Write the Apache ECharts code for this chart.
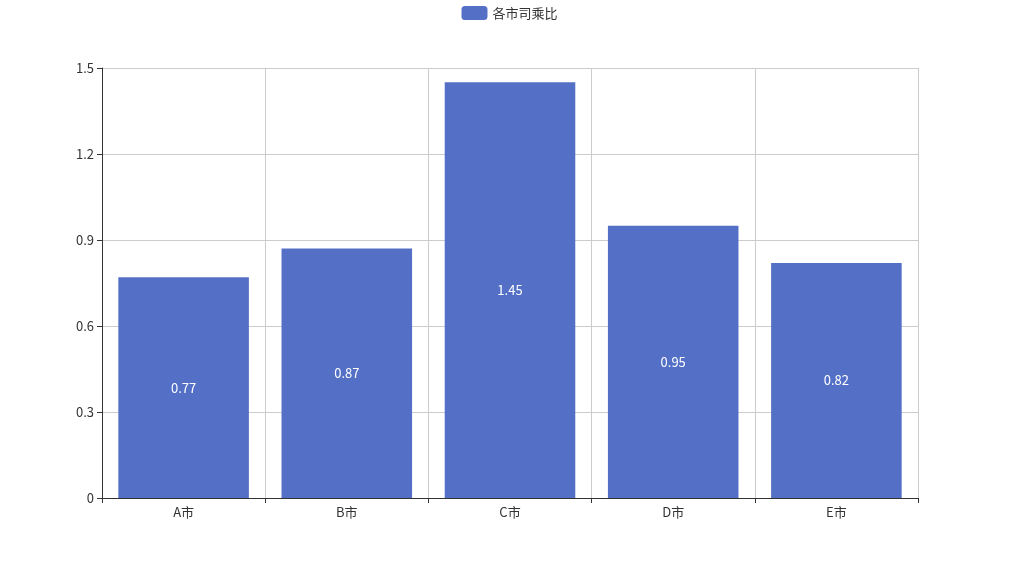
<!DOCTYPE html>
<html><head><meta charset="utf-8">
<script src="https://cdn.jsdelivr.net/npm/echarts@6/dist/echarts.min.js"></script>
<style>html,body{margin:0;padding:0;background:#fff}#c{width:1019px;height:566px}</style>
</head><body><div id="c"></div>
<script>
const categories = ['A市','B市','C市','D市','E市'];
const values = [0.77, 0.87, 1.45, 0.95, 0.82];
const seriesName = '各市司乘比';
const chart = echarts.init(document.getElementById('c'));
chart.setOption({
  textStyle: {fontFamily: '"Noto Sans CJK SC", "Noto Sans", sans-serif'},
  legend: {top: 1, data: [seriesName], itemWidth: 26, itemHeight: 14, textStyle: {fontSize: 13, color: '#333'}},
  grid: {left: 102, right: 101, top: 68, bottom: 68},
  xAxis: {
    type: 'category', data: categories,
    axisLine: {lineStyle: {color: '#333'}},
    axisTick: {show: true, lineStyle: {color: '#333'}},
    axisLabel: {color: '#333', fontSize: 13},
    splitLine: {show: true, lineStyle: {color: '#ccc'}}
  },
  yAxis: {
    type: 'value', min: 0, max: 1.5, interval: 0.3,
    axisLine: {show: true, lineStyle: {color: '#333'}},
    axisTick: {show: true, lineStyle: {color: '#333'}},
    axisLabel: {color: '#333', fontSize: 13},
    splitLine: {show: true, lineStyle: {color: '#ccc'}}
  },
  series: [{
    name: seriesName, type: 'bar', data: values, barCategoryGap: '20%',
    itemStyle: {color: '#5470c6'},
    label: {show: true, position: 'inside', color: '#fff', fontSize: 13}
  }]
});
</script></body></html>
